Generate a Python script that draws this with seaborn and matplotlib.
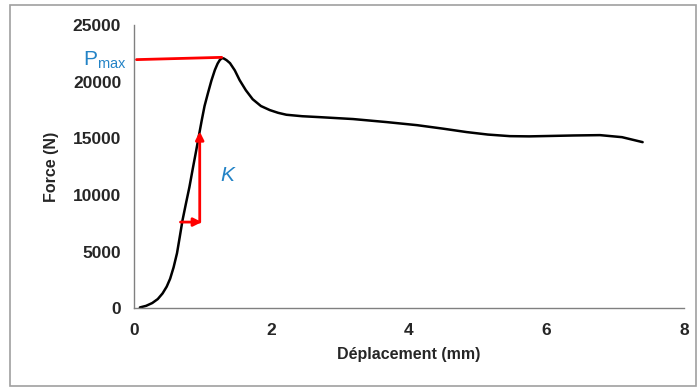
import matplotlib
matplotlib.use("Agg")
import matplotlib.pyplot as plt
import seaborn as sns
import pandas as pd
from matplotlib.patches import Rectangle

sns.set_theme(style="white")
plt.rcParams['font.family'] = ['Liberation Sans', 'DejaVu Sans']
plt.rcParams['mathtext.fontset'] = 'custom'
plt.rcParams['mathtext.rm'] = 'Liberation Sans'

deplacement = [0.09, 0.18, 0.27, 0.35, 0.42, 0.48, 0.53, 0.58, 0.63, 0.67, 0.71, 0.76, 0.81, 0.86, 0.91,
               0.95, 0.99, 1.03, 1.08, 1.13, 1.18, 1.22, 1.25, 1.28, 1.31, 1.35, 1.40, 1.47, 1.54, 1.63,
               1.73, 1.85, 1.98, 2.10, 2.22, 2.45, 2.70, 3.19, 3.68, 4.12, 4.50, 4.84, 5.15, 5.47, 5.75,
               6.00, 6.40, 6.78, 7.10, 7.40]
force = [60, 200, 450, 800, 1300, 1900, 2600, 3600, 4860, 6300, 7770, 9250, 10690, 12350, 13960,
         15300, 16610, 17850, 19000, 20100, 21030, 21600, 21900, 22080, 22050, 21900, 21640, 21000, 20140, 19250,
         18450, 17850, 17490, 17250, 17080, 16950, 16870, 16700, 16430, 16160, 15850, 15550, 15330, 15190, 15170,
         15200, 15250, 15280, 15100, 14660]
df = pd.DataFrame({"Déplacement (mm)": deplacement, "Force (N)": force})

x_ticks = [0, 2, 4, 6, 8]
y_ticks = [0, 5000, 10000, 15000, 20000, 25000]

fig = plt.figure(figsize=(7, 3.92), dpi=100)
ax = fig.add_axes([0.191, 0.214, 0.786, 0.722])
sns.lineplot(data=df, x="Déplacement (mm)", y="Force (N)", ax=ax, color="black", linewidth=1.8)

ax.set_xlim(0, 8)
ax.set_ylim(0, 25000)
ax.set_xticks(x_ticks)
ax.set_yticks(y_ticks)
ax.set_xticklabels([str(v) for v in x_ticks], fontsize=12.5, fontweight="bold")
ax.set_yticklabels([str(v) for v in y_ticks], fontsize=12.5, fontweight="bold")
ax.set_xlabel("Déplacement (mm)", fontsize=11.5, fontweight="bold", labelpad=6)
ax.set_ylabel("Force (N)", fontsize=11.5, fontweight="bold", labelpad=10)
for s in ["top", "right"]:
    ax.spines[s].set_visible(False)
for s in ["left", "bottom"]:
    ax.spines[s].set_color("#808080")
    ax.spines[s].set_linewidth(1)
ax.tick_params(axis="both", which="major", length=4, width=1, color="#808080", direction="out")
ax.tick_params(axis="x", pad=7)
ax.tick_params(axis="y", pad=5)

# Pmax line
ax.plot([0.04, 1.28], [21950, 22150], color="red", linewidth=2, clip_on=False)
ax.text(-0.11, 21900, r"P$_{\mathrm{max}}$", color="#2383c6", fontsize=15, ha="right", va="center")

# K arrows
ax.annotate("", xy=(0.96, 15600), xytext=(0.96, 7600),
            arrowprops=dict(arrowstyle="-|>", color="red", lw=2, mutation_scale=12, shrinkA=0, shrinkB=0))
ax.annotate("", xy=(0.99, 7600), xytext=(0.68, 7600),
            arrowprops=dict(arrowstyle="-|>", color="red", lw=2, mutation_scale=12, shrinkA=0, shrinkB=0))
ax.text(1.36, 11700, "K", color="#2383c6", fontsize=15, style="italic", ha="center", va="center")

# outer frame
fig.patches.append(Rectangle((0.014, 0.015), 0.98, 0.972, transform=fig.transFigure,
                             fill=False, edgecolor="#a0a0a0", linewidth=1.2))

fig.savefig("out.png", dpi=100)
